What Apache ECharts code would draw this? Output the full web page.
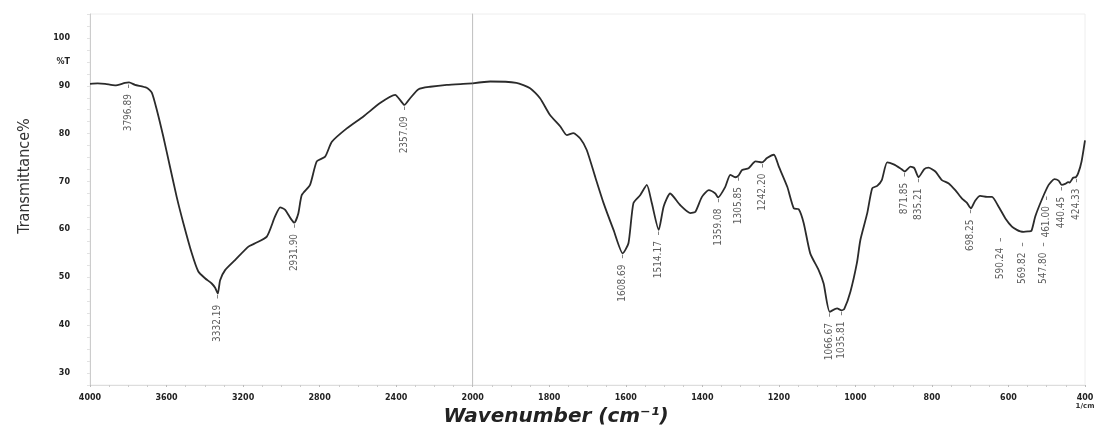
<!DOCTYPE html>
<html>
<head>
<meta charset="utf-8">
<script src="https://cdn.jsdelivr.net/npm/echarts@6/dist/echarts.min.js"></script>
<style>
  html, body { margin: 0; padding: 0; background: #fff; }
  #chart { width: 1094px; height: 433px; }
</style>
</head>
<body>
<div id="chart"></div>
<script>
// FTIR spectrum, %T against wavenumber (scale changes at 2000 cm-1)
const wavenumber = [
  4000, 3960, 3921, 3869, 3817, 3796, 3765, 3704, 3677, 3651, 3617, 3582, 3547, 3512, 3468,
  3434, 3399, 3364, 3346, 3332, 3320, 3294, 3242, 3172, 3137, 3076, 3033, 3006, 2980, 2950,
  2932, 2911, 2893, 2850, 2815, 2771, 2736, 2658, 2571, 2484, 2405, 2379, 2357, 2327, 2283,
  2222, 2135, 2050, 2000,
  1954, 1886, 1850, 1824, 1798, 1771, 1754, 1737, 1719, 1702, 1680, 1658, 1632, 1608, 1593,
  1580, 1562, 1545, 1532, 1514, 1501, 1484, 1458, 1431, 1418, 1401, 1383, 1366, 1359, 1340,
  1327, 1314, 1305, 1296, 1279, 1261, 1244, 1231, 1213, 1200, 1178, 1161, 1148, 1135, 1118,
  1096, 1083, 1067, 1048, 1036, 1029, 1013, 996, 987, 969, 956, 943, 931, 917, 900,
  883, 871, 856, 846, 835, 820, 809, 791, 774, 756, 739, 722, 709, 698, 687,
  674, 656, 643, 626, 608, 591, 578, 569, 560, 548, 540, 530, 513, 495, 480,
  469, 461, 452, 444, 440, 431, 424, 418, 409, 400
];
const transmittance = [
  90.4, 90.5, 90.4, 90.1, 90.6, 90.7, 90.2, 89.6, 88.6, 85.0, 79.4, 73.1, 66.8, 61.3, 55.0,
  51.2, 49.8, 48.7, 47.8, 46.6, 49.4, 51.5, 53.6, 56.4, 57.1, 58.5, 62.7, 64.6, 64.1, 62.2,
  61.4, 63.4, 67.2, 69.3, 74.2, 75.2, 78.3, 81.1, 83.6, 86.4, 88.1, 87.0, 86.0, 87.4, 89.3,
  89.8, 90.2, 90.4, 90.5,
  90.9, 90.6, 89.5, 87.4, 83.9, 81.5, 79.7, 80.1, 79.0, 76.6, 71.0, 65.5, 59.9, 55.0, 57.1,
  65.5, 67.2, 69.3, 65.5, 59.9, 64.8, 67.5, 65.1, 63.4, 63.7, 66.8, 68.2, 67.5, 66.7, 68.9,
  71.4, 70.9, 71.3, 72.4, 72.8, 74.2, 74.0, 74.9, 75.6, 73.1, 68.9, 64.4, 64.2, 61.3, 55.0,
  51.5, 48.7, 42.8, 43.5, 43.1, 43.4, 47.0, 53.0, 57.8, 63.4, 68.6, 69.1, 70.3, 74.0, 73.6,
  72.8, 72.1, 73.1, 72.8, 70.9, 72.6, 72.9, 72.1, 70.3, 69.6, 68.2, 66.5, 65.6, 64.4, 66.0,
  67.0, 66.8, 66.8, 64.8, 62.3, 60.6, 59.9, 59.6, 59.5, 59.6, 59.7, 62.7, 66.2, 69.3, 70.5,
  70.2, 69.3, 69.5, 69.9, 69.8, 70.8, 70.9, 71.7, 74.2, 78.6
];

// annotated peaks and the %T of the curve there
const peakLabels = [
  '3796.89', '3332.19', '2931.90', '2357.09', '1608.69', '1514.17', '1359.08', '1305.85',
  '1242.20', '1066.67', '1035.81', '871.85', '835.21', '698.25', '590.24', '569.82',
  '547.80', '461.00', '440.45', '424.33'
];
const peakT = [
  90.6, 46.6, 61.4, 86.0, 55.0, 59.9, 66.7, 71.2,
  74.0, 42.8, 43.1, 72.1, 70.9, 64.4, 60.6, 59.6,
  59.6, 69.3, 69.8, 70.9
];

// crowded labels get pushed aside, screen px [right, down]
const nudge = {
  '590.24': [-12, 10], '569.82': [2, 10], '547.80': [15, 10],
  '461.00': [-15, 10], '440.45': [-8, 3], '424.33': [1, 0]
};

const BREAK = 2000;
const chart = echarts.init(document.getElementById('chart'));

const pts = wavenumber.map((w, i) => [w, transmittance[i]]);
const highPts = pts.filter(p => p[0] >= BREAK);
const lowPts = pts.filter(p => p[0] <= BREAK);

function peakItems(test) {
  const out = [];
  peakLabels.forEach((s, i) => {
    const w = parseFloat(s);
    if (!test(w)) return;
    const item = { name: s, value: [w, peakT[i]] };
    // label is turned 90deg, so its offset is in the turned frame
    if (nudge[s]) item.label = { offset: [-nudge[s][1], nudge[s][0]] };
    out.push(item);
  });
  return out;
}

const peakLabelStyle = {
  show: true,
  formatter: p => p.name + '  \u2013',
  rotate: 90,
  position: 'bottom',
  distance: 1,
  align: 'right',
  verticalAlign: 'middle',
  fontFamily: '"Liberation Sans Narrow", "DejaVu Sans Condensed", sans-serif',
  fontSize: 10,
  color: '#333'
};

const lineStyle = { color: '#2b2b2b', width: 1.8 };
const yMin = 27.5, yMax = 105;
const axisFont = { fontFamily: '"DejaVu Sans", sans-serif', fontWeight: 'bold', fontSize: 8, color: '#222' };

const option = {
  backgroundColor: '#fff',
  animation: false,
  grid: [
    { left: 90, top: 14, width: 382.7, height: 371, containLabel: false, outerBoundsMode: 'none', show: true, borderColor: '#eee', borderWidth: 1 },
    { left: 472.7, top: 14, width: 612.3, height: 371, containLabel: false, outerBoundsMode: 'none', show: true, borderColor: '#eee', borderWidth: 1 }
  ],
  xAxis: [
    {
      gridIndex: 0, type: 'value', inverse: true, min: 2000, max: 4000, interval: 400,
      axisLine: { show: true, lineStyle: { color: '#ddd' } },
      axisTick: { show: true, length: 2, lineStyle: { color: '#bbb' } },
      minorTick: { show: true, splitNumber: 4, length: 2, lineStyle: { color: '#ccc' } },
      splitLine: { show: false },
      axisLabel: Object.assign({ margin: 9, formatter: v => String(v) }, axisFont)
    },
    {
      gridIndex: 1, type: 'value', inverse: true, min: 400, max: 2000, interval: 200,
      axisLine: { show: true, lineStyle: { color: '#ddd' } },
      axisTick: { show: true, length: 2, lineStyle: { color: '#bbb' } },
      minorTick: { show: true, splitNumber: 4, length: 2, lineStyle: { color: '#ccc' } },
      splitLine: { show: false },
      axisLabel: Object.assign({ margin: 9, formatter: v => (v === 2000 ? '' : String(v)) }, axisFont)
    }
  ],
  yAxis: [
    {
      gridIndex: 0, type: 'value', min: yMin, max: yMax, interval: 2.5,
      axisLine: { show: true, lineStyle: { color: '#ccc' } },
      axisTick: { show: true, length: 3, lineStyle: { color: '#e2e2e2' } },
      splitLine: { show: false },
      axisLabel: Object.assign({
        margin: 20,
        formatter: v => {
          if (Math.abs(v - 95) < 1e-6) return '%T';
          return Math.abs(v % 10) < 1e-6 ? String(v) : '';
        }
      }, axisFont)
    },
    {
      gridIndex: 1, type: 'value', min: yMin, max: yMax, interval: 2.5,
      axisLine: { show: true, lineStyle: { color: '#c4c4c4', width: 1 } },
      axisTick: { show: false },
      axisLabel: { show: false },
      splitLine: { show: false }
    }
  ],
  series: [
    { type: 'line', xAxisIndex: 0, yAxisIndex: 0, data: highPts, showSymbol: false, smooth: 0.2, lineStyle: lineStyle },
    { type: 'line', xAxisIndex: 1, yAxisIndex: 1, data: lowPts, showSymbol: false, smooth: 0.2, lineStyle: lineStyle },
    { type: 'scatter', xAxisIndex: 0, yAxisIndex: 0, symbolSize: 0, data: peakItems(w => w >= BREAK), label: peakLabelStyle, silent: true },
    { type: 'scatter', xAxisIndex: 1, yAxisIndex: 1, symbolSize: 0, data: peakItems(w => w < BREAK), label: peakLabelStyle, silent: true }
  ],
  graphic: [
    {
      type: 'text', x: 25, y: 176, rotation: Math.PI / 2,
      style: {
        text: 'Transmittance%', fill: '#333',
        font: '16px "Liberation Sans Narrow", "DejaVu Sans Condensed", sans-serif',
        textAlign: 'center', textVerticalAlign: 'middle'
      }
    },
    {
      type: 'text', x: 556, y: 417,
      style: {
        text: 'Wavenumber (cm\u207B\u00B9)', fill: '#222',
        font: 'italic bold 20px "DejaVu Sans", sans-serif',
        textAlign: 'center', textVerticalAlign: 'middle'
      }
    },
    {
      type: 'text', x: 1085, y: 406,
      style: {
        text: '1/cm', fill: '#333',
        font: 'bold 7px "DejaVu Sans", sans-serif',
        textAlign: 'center', textVerticalAlign: 'middle'
      }
    }
  ]
};

chart.setOption(option);
</script>
</body>
</html>
